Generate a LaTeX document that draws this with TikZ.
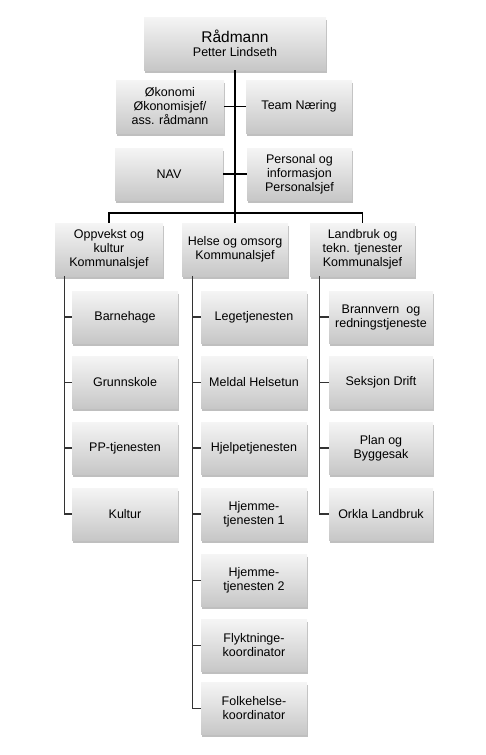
\documentclass[tikz,border=0pt]{standalone}
\usepackage{fontspec}
\setmainfont{Liberation Sans}
\usetikzlibrary{shadows}
\begin{document}
\begin{tikzpicture}[x=1pt,y=-1pt,
  box/.style={rectangle, draw=none, top color=white!96!black, bottom color=black!22,
    minimum width=106pt, minimum height=52pt, inner sep=1pt, align=center,
    font=\fontsize{12.5}{14}\selectfont,
    drop shadow={shadow xshift=1pt, shadow yshift=-2.5pt, opacity=0.25, fill=black}},
  conn/.style={line width=1.3pt, black},
  sub/.style={line width=1.1pt, black!80}]
\useasboundingbox (0,0) rectangle (485,755);
% top
\node[box, minimum width=182pt, minimum height=53pt] (rad) at (235,43.5)
  {{\fontsize{15.5}{17}\selectfont Rådmann}\\Petter Lindseth};
\node[box, minimum width=108pt, minimum height=53pt] (oko) at (170,106.5) {Økonomi\\Økonomisjef/\\ass. rådmann};
\node[box, minimum width=106pt, minimum height=53pt] (team) at (299,106.5) {Team Næring};
\node[box, minimum width=108pt] (nav) at (169,174) {NAV};
\node[box, minimum width=105pt] (pers) at (299.5,174) {Personal og\\informasjon\\Personalsjef};
% level 2
\node[box, minimum width=108pt, minimum height=53pt] (opp) at (109,249.5) {Oppvekst og\\kultur\\Kommunalsjef};
\node[box, minimum height=53pt] (hel) at (235,249.5) {Helse og omsorg\\Kommunalsjef};
\node[box, minimum width=105pt, minimum height=53pt] (land) at (362.5,249.5) {Landbruk og\\tekn. tjenester\\Kommunalsjef};
% column 1
\node[box] (barn) at (125,317) {Barnehage};
\node[box] (grunn) at (125,382.5) {Grunnskole};
\node[box] (pp) at (125,448) {PP-tjenesten};
\node[box] (kult) at (125,514) {Kultur};
% column 2
\node[box] (lege) at (254,317) {Legetjenesten};
\node[box] (meld) at (254,382.5) {Meldal Helsetun};
\node[box] (hjelp) at (254,448) {Hjelpetjenesten};
\node[box] (hj1) at (254,514) {Hjemme-\\tjenesten 1};
\node[box] (hj2) at (254,580.5) {Hjemme-\\tjenesten 2};
\node[box] (flykt) at (254,645.5) {Flyktninge-\\koordinator};
\node[box] (folk) at (254,708.5) {Folkehelse-\\koordinator};
% column 3
\node[box, minimum width=104pt] (brann) at (381,317) {Brannvern\ \ og\\redningstjeneste};
\node[box, minimum width=104pt] (seks) at (381,382.5) {Seksjon Drift};
\node[box, minimum width=104pt] (plan) at (381,448) {Plan og\\Byggesak};
\node[box, minimum width=104pt] (orkla) at (381,514) {Orkla Landbruk};
% connectors top
\coordinate (bar) at (235,213);
\draw[conn] (rad.south) -- (bar);
\draw[conn] (oko.east) -- (team.west);
\draw[conn] (nav.east) -- (pers.west);
\draw[conn] (opp.north) |- (bar) -| (land.north);
\draw[conn] (bar) -- (hel.north);
% children
\foreach \c in {barn,grunn,pp,kult}
  \draw[sub] ([xshift=10pt]opp.south west) |- (\c.west);
\foreach \c in {lege,meld,hjelp,hj1,hj2,flykt,folk}
  \draw[sub] ([xshift=11pt]hel.south west) |- (\c.west);
\foreach \c in {brann,seks,plan,orkla}
  \draw[sub] ([xshift=10pt]land.south west) |- (\c.west);
\end{tikzpicture}
\end{document}
